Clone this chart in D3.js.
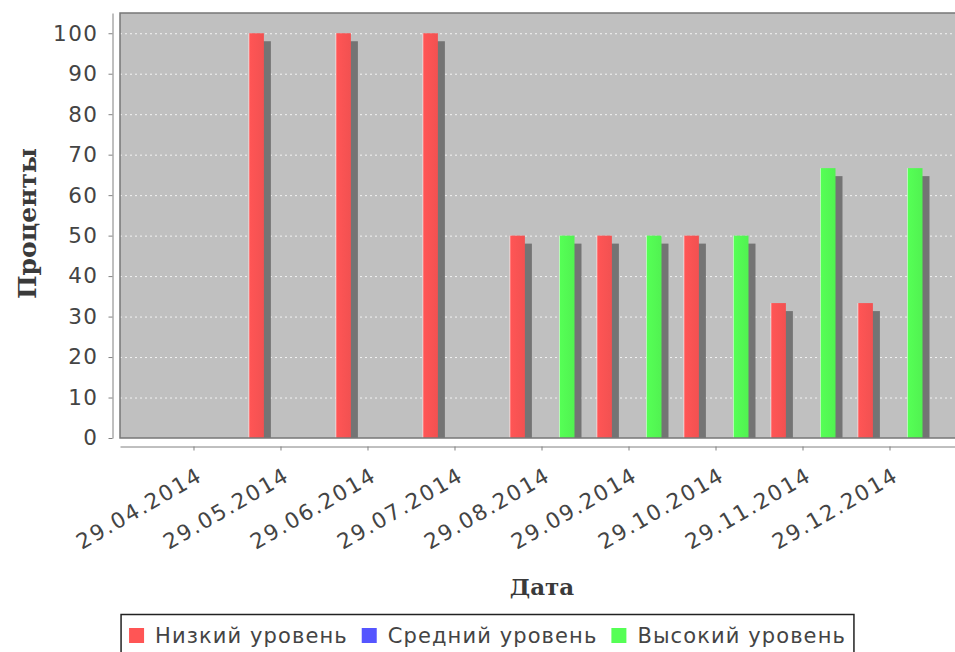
<!DOCTYPE html>
<html>
<head>
<meta charset="utf-8">
<script src="https://cdn.jsdelivr.net/npm/d3@7"></script>
<style>
  body { margin: 0; background: #fff; }
  svg { display: block; }
</style>
</head>
<body>
<svg id="chart"></svg>
<script>
// data
const dates = ['29.04.2014', '29.05.2014', '29.06.2014', '29.07.2014', '29.08.2014',
               '29.09.2014', '29.10.2014', '29.11.2014', '29.12.2014'];
const seriesNames = ['Низкий уровень', 'Средний уровень', 'Высокий уровень'];
const lowValues  = [null, 100, 100, 100, 50, 50, 50, 33.33, 33.33];
const midValues  = [null, null, null, null, null, null, null, null, null];
const highValues = [null, null, null, null, 50, 50, 50, 66.67, 66.67];
const yTicks = [0, 10, 20, 30, 40, 50, 60, 70, 80, 90, 100];

const colors = ['#ff5555', '#5555ff', '#55ff55'];
const allValues = [lowValues, midValues, highValues];

const width = 955, height = 652;
const plot = { left: 120, right: 964, top: 13, bottom: 438 };

const svg = d3.select('#chart')
    .attr('width', width)
    .attr('height', height);

// scales
const x = d3.scaleBand()
    .domain(dates)
    .range([plot.left, plot.right])
    .paddingInner(0.253)
    .paddingOuter(0.477);

const xs = d3.scaleBand()
    .domain(seriesNames)
    .range([0, x.bandwidth()])
    .paddingInner(0.38);

const y = d3.scaleLinear()
    .domain([0, 105])
    .range([plot.bottom, plot.top]);

// gradients for bars (light left edge)
const defs = svg.append('defs');
colors.forEach((c, i) => {
  const g = defs.append('linearGradient')
      .attr('id', 'grad' + i)
      .attr('x1', 0).attr('x2', 1).attr('y1', 0).attr('y2', 0);
  g.append('stop').attr('offset', '0%').attr('stop-color', d3.interpolateRgb(c, '#fff')(0.8));
  g.append('stop').attr('offset', '9%').attr('stop-color', c);
  g.append('stop').attr('offset', '100%').attr('stop-color', d3.color(c).darker(0.15));
});
defs.append('clipPath').attr('id', 'plotClip')
  .append('rect')
    .attr('x', plot.left).attr('y', plot.top)
    .attr('width', plot.right - plot.left)
    .attr('height', plot.bottom - plot.top);

// plot background
svg.append('rect')
    .attr('x', plot.left).attr('y', plot.top)
    .attr('width', plot.right - plot.left)
    .attr('height', plot.bottom - plot.top)
    .attr('fill', '#c0c0c0');

// gridlines
svg.append('g')
  .selectAll('line')
  .data(yTicks.filter(d => d > 0))
  .enter().append('line')
    .attr('x1', plot.left).attr('x2', plot.right)
    .attr('y1', d => y(d) + 0.5).attr('y2', d => y(d) + 0.5)
    .attr('stroke', '#fff')
    .attr('stroke-opacity', 0.8)
    .attr('stroke-width', 1)
    .attr('stroke-dasharray', '2,3');

// flatten bars
const bars = [];
allValues.forEach((vals, s) => {
  vals.forEach((v, i) => {
    if (v != null && v > 0) bars.push({ s: s, date: dates[i], value: v });
  });
});

const barG = svg.append('g').attr('clip-path', 'url(#plotClip)');

// shadows
barG.selectAll('.shadow')
  .data(bars)
  .enter().append('rect')
    .attr('class', 'shadow')
    .attr('x', d => x(d.date) + xs(seriesNames[d.s]) + 7)
    .attr('y', d => y(d.value) + 8)
    .attr('width', xs.bandwidth())
    .attr('height', d => plot.bottom - y(d.value))
    .attr('fill', '#747474');

// bars
barG.selectAll('.bar')
  .data(bars)
  .enter().append('rect')
    .attr('class', 'bar')
    .attr('x', d => x(d.date) + xs(seriesNames[d.s]))
    .attr('y', d => y(d.value))
    .attr('width', xs.bandwidth())
    .attr('height', d => plot.bottom - y(d.value))
    .attr('fill', d => `url(#grad${d.s})`);

// plot outline
svg.append('rect')
    .attr('x', plot.left).attr('y', plot.top)
    .attr('width', plot.right - plot.left)
    .attr('height', plot.bottom - plot.top)
    .attr('fill', 'none')
    .attr('stroke', '#777')
    .attr('stroke-width', 1.5);

// y axis
const yAxis = svg.append('g')
    .attr('transform', 'translate(112.5,0)')
    .call(d3.axisLeft(y).tickValues(yTicks).tickSize(4).tickSizeOuter(0).tickPadding(10));

yAxis.select('.domain').attr('stroke', '#808080');
yAxis.selectAll('.tick line').attr('stroke', '#808080');
yAxis.selectAll('text')
    .style('font-family', 'DejaVu Sans')
    .style('font-size', '21.5px')
    .style('letter-spacing', '1.5px')
    .style('fill', '#444');

// x axis
const xAxis = svg.append('g')
    .attr('transform', 'translate(0,446.5)')
    .call(d3.axisBottom(x).tickSize(4).tickSizeOuter(0));

xAxis.select('.domain').attr('stroke', '#808080');
xAxis.selectAll('.tick line').attr('stroke', '#808080');
xAxis.selectAll('text')
    .attr('x', 0).attr('y', 0).attr('dy', 0)
    .attr('text-anchor', 'end')
    .attr('transform', 'translate(10,33) rotate(-30)')
    .style('font-family', 'DejaVu Sans')
    .style('font-size', '21.5px')
    .style('letter-spacing', '1.8px')
    .style('fill', '#444');

// axis titles
svg.append('text')
    .attr('transform', `translate(36,${(plot.top + plot.bottom) / 2 - 2}) rotate(-90)`)
    .attr('text-anchor', 'middle')
    .style('font-family', 'DejaVu Serif')
    .style('font-weight', 'bold')
    .style('font-size', '25px')
    .style('fill', '#3a3a3a')
    .text('Проценты');

svg.append('text')
    .attr('x', (plot.left + plot.right) / 2)
    .attr('y', 595)
    .attr('text-anchor', 'middle')
    .style('font-family', 'DejaVu Serif')
    .style('font-weight', 'bold')
    .style('font-size', '23px')
    .style('fill', '#3a3a3a')
    .text('Дата');

// legend
const legend = svg.append('g');
const items = legend.selectAll('.item')
  .data(seriesNames)
  .enter().append('g')
    .attr('class', 'item');

items.append('text')
    .attr('y', 643)
    .style('font-family', 'DejaVu Sans')
    .style('font-size', '21px')
    .style('letter-spacing', '1.1px')
    .style('fill', '#444')
    .text(d => d);

let cursor = 0;
const pos = [];
items.each(function(d, i) {
  const w = d3.select(this).select('text').node().getComputedTextLength();
  pos.push(cursor);
  cursor += 15 + 11 + w + 14;
});
const legendWidth = 8 + cursor - 14 + 8;
const legendLeft = 487.5 - legendWidth / 2;

items.each(function(d, i) {
  const g = d3.select(this);
  const x0 = legendLeft + 8 + pos[i];
  g.insert('rect', 'text')
      .attr('x', x0).attr('y', 628)
      .attr('width', 15).attr('height', 15)
      .attr('fill', colors[i]);
  g.select('text').attr('x', x0 + 26);
});

legend.insert('rect', '.item')
    .attr('x', legendLeft).attr('y', 614.5)
    .attr('width', legendWidth).attr('height', 50)
    .attr('fill', '#fff')
    .attr('stroke', '#222')
    .attr('stroke-width', 1.5);
</script>
</body>
</html>
